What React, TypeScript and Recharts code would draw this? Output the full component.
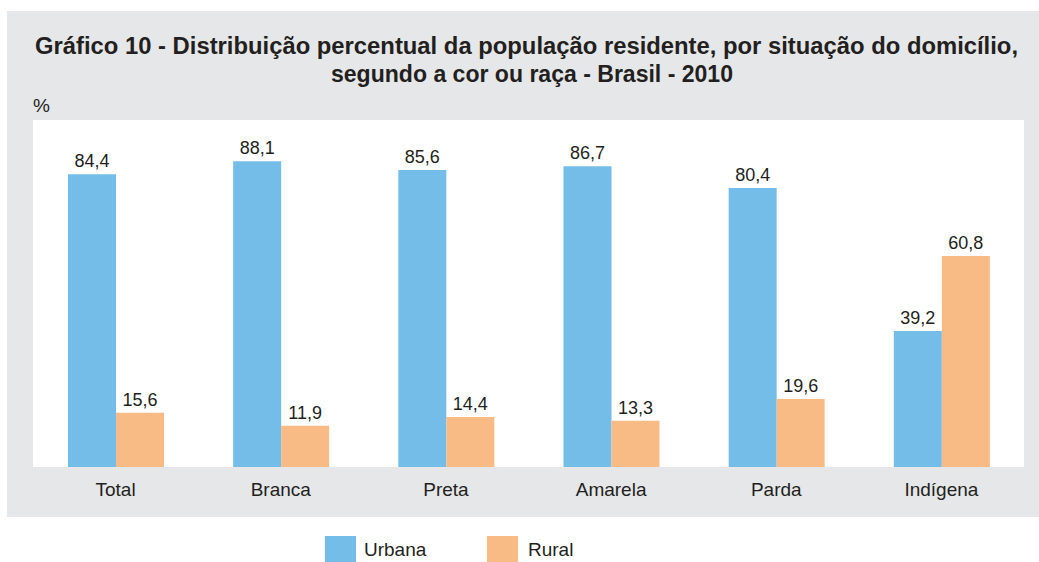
import React from "react";
import { BarChart, Bar, XAxis, YAxis, LabelList } from "recharts";

const categories = ["Total", "Branca", "Preta", "Amarela", "Parda", "Indígena"];
const urbana = [84.4, 88.1, 85.6, 86.7, 80.4, 39.2];
const rural = [15.6, 11.9, 14.4, 13.3, 19.6, 60.8];

const BLUE = "#74BDE8";
const ORANGE = "#F9BB85";
const GRAY = "#E6E7E9";
const TEXT = "#231F20";
const FONT = "'Liberation Sans', Arial, sans-serif";

const data = categories.map((name, i) => ({
  name,
  urbana: urbana[i],
  rural: rural[i],
}));

const fmt = (v: number) => v.toFixed(1).replace(".", ",");

const CategoryTick = (props: any) => {
  const { x, y, payload } = props;
  return (
    <text x={x} y={y + 29} textAnchor="middle" fontSize={19} fill={TEXT} fontFamily={FONT}>
      {payload.value}
    </text>
  );
};

export default function App() {
  return (
    <div style={{ position: "absolute", left: 0, top: 0, width: 1039, height: 562, background: "#fff", fontFamily: FONT }}>
      {/* gray panel */}
      <div style={{ position: "absolute", left: 7, top: 11, width: 1032, height: 506, background: GRAY }} />
      {/* white plot area */}
      <div style={{ position: "absolute", left: 33, top: 120, width: 991, height: 347, background: "#fff" }} />

      <svg style={{ position: "absolute", left: 0, top: 0 }} width={1039} height={120}>
        <text x={35} y={54} fontSize={23} fontWeight="bold" fill={TEXT} fontFamily={FONT}
          textLength={983} lengthAdjust="spacingAndGlyphs">
          Gráfico 10 - Distribuição percentual da população residente, por situação do domicílio,
        </text>
        <text x={331} y={82} fontSize={23} fontWeight="bold" fill={TEXT} fontFamily={FONT}
          textLength={402} lengthAdjust="spacingAndGlyphs">
          segundo a cor ou raça - Brasil - 2010
        </text>
        <text x={33} y={112} fontSize={19} fill={TEXT} fontFamily={FONT}>%</text>
      </svg>

      <div style={{ position: "absolute", left: 33, top: 120 }}>
        <BarChart width={991} height={390} data={data} margin={{ top: 0, right: 0, bottom: 0, left: 0 }}
          barGap={0}>
          <XAxis dataKey="name" axisLine={false} tickLine={false} tickSize={0} tickMargin={0}
            height={43} interval={0} tick={<CategoryTick />} />
          <YAxis hide domain={[0, 100]} />
          <Bar dataKey="urbana" fill={BLUE} barSize={48} isAnimationActive={false}>
            <LabelList dataKey="urbana" position="top" offset={7} formatter={(v: any) => fmt(Number(v))}
              style={{ fontSize: 18, fill: TEXT, fontFamily: FONT }} />
          </Bar>
          <Bar dataKey="rural" fill={ORANGE} barSize={48} isAnimationActive={false}>
            <LabelList dataKey="rural" position="top" offset={7} formatter={(v: any) => fmt(Number(v))}
              style={{ fontSize: 18, fill: TEXT, fontFamily: FONT }} />
          </Bar>
        </BarChart>
      </div>

      {/* legend */}
      <div style={{ position: "absolute", left: 325, top: 536, width: 31, height: 26, background: BLUE }} />
      <div style={{ position: "absolute", left: 364, top: 539, fontSize: 19, color: TEXT, lineHeight: "22px" }}>Urbana</div>
      <div style={{ position: "absolute", left: 487, top: 536, width: 31, height: 26, background: ORANGE }} />
      <div style={{ position: "absolute", left: 528, top: 539, fontSize: 19, color: TEXT, lineHeight: "22px" }}>Rural</div>
    </div>
  );
}
